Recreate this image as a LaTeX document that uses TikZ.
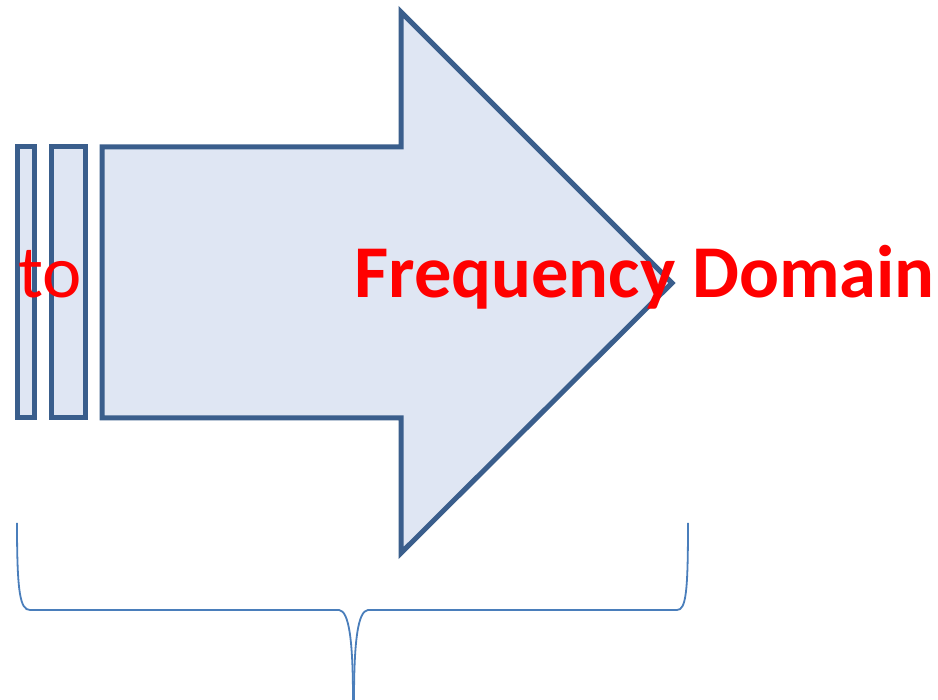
\documentclass[tikz,border=0pt]{standalone}
\usepackage{fontspec}
\setmainfont{Carlito}
\definecolor{shapeline}{HTML}{3A5E8C}
\definecolor{shapefill}{HTML}{DFE6F3}
\definecolor{braceline}{HTML}{4A7EBB}
\definecolor{txtred}{HTML}{FF0000}
\tikzset{
  blockshape/.style={draw=shapeline, fill=shapefill, line width=5pt, line join=miter},
  bracestyle/.style={draw=braceline, line width=1.8pt},
  bigtext/.style={text=txtred, inner sep=0pt, anchor=base west, font=\fontsize{74.5}{80}\selectfont}
}
\begin{document}
\begin{tikzpicture}[x=1pt,y=-1pt]
\useasboundingbox (0,0) rectangle (938,700);
% stripes
\path[blockshape] (17,147) rectangle (34,418);
\path[blockshape] (51,147) rectangle (85,418);
% arrow
\path[blockshape] (102,147) -- (401,147) -- (401,12) -- (672,283) -- (401,553) -- (401,418) -- (102,418) -- cycle;
% brace
\path[bracestyle] (17,523) .. controls (17,592) and (20,610) .. (30,610) -- (339,610)
  .. controls (349,611) and (353,640) .. (353,700);
\path[bracestyle] (688,523) .. controls (688,592) and (686,610) .. (677,610) -- (368,610)
  .. controls (358,611) and (354,640) .. (354,700);
% texts
\node[bigtext] (to) at (18,298) {to};
\node[bigtext, font=\fontsize{74.5}{80}\selectfont\bfseries] (fd) at (354,298) {Frequency Domain};
\end{tikzpicture}
\end{document}
